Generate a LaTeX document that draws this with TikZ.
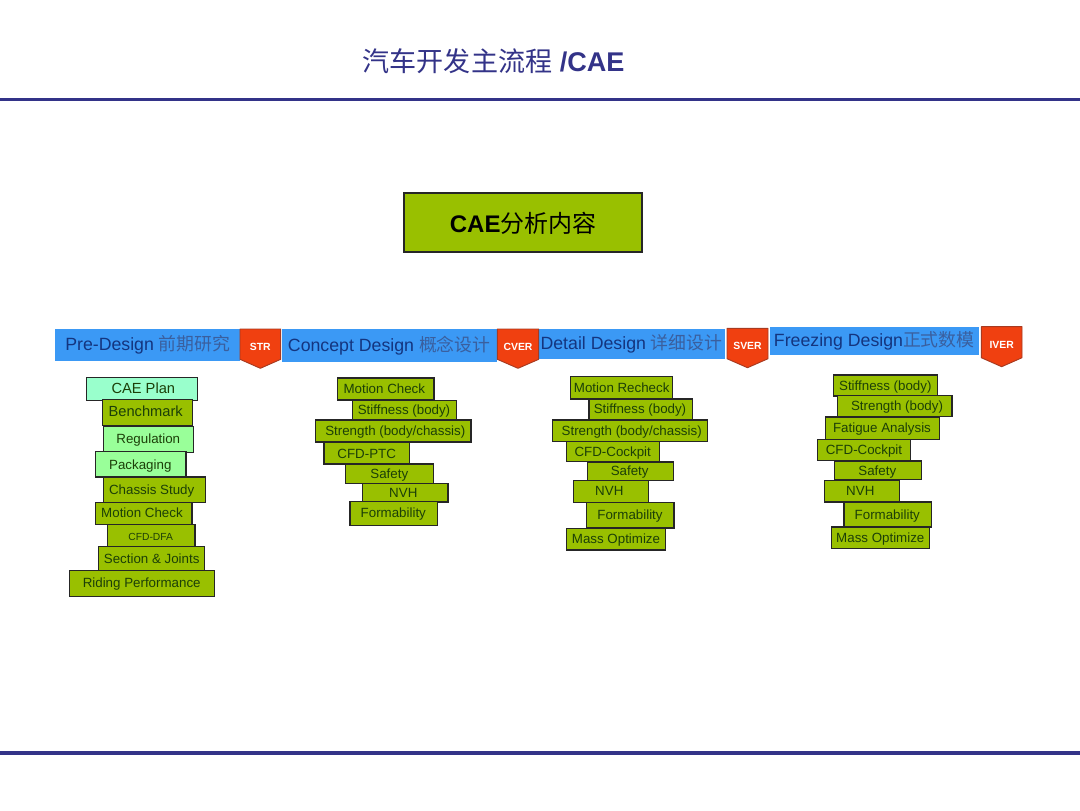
\documentclass[tikz,border=0pt]{standalone}
\usepackage{fontspec}
\setmainfont{Liberation Sans}
\newfontfamily\cjk{Noto Sans CJK SC}
\definecolor{navy}{HTML}{333388}
\definecolor{leaf}{HTML}{99C000}
\definecolor{mintA}{HTML}{99FFCC}
\definecolor{mintB}{HTML}{99FF99}
\definecolor{sky}{HTML}{3B99F5}
\definecolor{ink}{HTML}{1C3F08}
\definecolor{headink}{HTML}{14357F}
\definecolor{cjkink}{HTML}{3A5F9E}
\definecolor{flag}{HTML}{F04010}
\definecolor{flagedge}{HTML}{A83A20}
\tikzset{
  x=0.75pt,y=-0.75pt,
  greenbox/.style={draw=black!85,line width=0.9pt,fill=leaf,inner sep=0pt,outer sep=0pt},
  mintone/.style={greenbox,fill=mintA},
  minttwo/.style={greenbox,fill=mintB},
  boxlabel/.style={text=ink,font=\fontsize{10pt}{12pt}\selectfont,inner sep=0pt,text height=7.2pt,text depth=2pt,yshift=-0.9pt},
  headbar/.style={fill=sky,draw=none,inner sep=0pt,outer sep=0pt},
  headlabel/.style={anchor=west,text=headink,font=\fontsize{13.3pt}{16pt}\selectfont,inner sep=0pt},
  flaglabel/.style={text=white,font=\bfseries\fontsize{7.8pt}{9pt}\selectfont,inner sep=0pt},
  shield/.style={fill=flag,draw=flagedge,line width=0.7pt,line join=round},
  hairline/.style={draw=navy,line width=2.6pt},
}
\newcommand{\headcjk}[1]{{\cjk\color{cjkink}\fontsize{13.4pt}{16pt}\selectfont #1}}
\newcommand{\gbox}[8]{%
  \pgfmathsetmacro{\bw}{(#4-#2)*0.75}\pgfmathsetmacro{\bh}{(#5-#3)*0.75}%
  \pgfmathsetmacro{\bcx}{(#2+#4)/2}\pgfmathsetmacro{\bcy}{(#3+#5)/2}%
  \node[#6,minimum width=\bw pt,minimum height=\bh pt] (#1) at (\bcx,\bcy) {};
  \node[boxlabel] (#1-t) at (#7,\bcy) {#8};
}
\newcommand{\headstrip}[5]{%
  \pgfmathsetmacro{\bw}{(#4-#2)*0.75}\pgfmathsetmacro{\bh}{(#5-#3)*0.75}%
  \pgfmathsetmacro{\bcx}{(#2+#4)/2}\pgfmathsetmacro{\bcy}{(#3+#5)/2}%
  \node[headbar,minimum width=\bw pt,minimum height=\bh pt] (#1) at (\bcx,\bcy) {};
}
\newcommand{\vershield}[6]{%
  \draw[shield] (#2,#3) -- (#4,#3) -- (#4,#5-9) -- ({(#2+#4)/2},#5) -- (#2,#5-9) -- cycle;
  \node[flaglabel] (#1) at ({(#2+#4)/2},#3+18) {#6};
}
\begin{document}
\begin{tikzpicture}
\useasboundingbox (0,0) rectangle (1080,810);
\fill[white] (0,0) rectangle (1080,810);
\coordinate (ta) at (0,99.5); \coordinate (tb) at (1080,99.5);
\coordinate (ba) at (0,753); \coordinate (bb) at (1080,753);
\draw[hairline] (ta) -- (tb);
\draw[hairline] (ba) -- (bb);
\node[anchor=west,inner sep=0pt,text=navy,font=\fontsize{20.3pt}{24pt}\selectfont] (title) at (362.5,61.5) {{\cjk 汽车开发主流程} \textbf{/CAE}};
\node[greenbox,line width=1.3pt,minimum width=178.5pt,minimum height=44.6pt] (main) at (523.2,222.5) {};
\node[inner sep=0pt,text=black,font=\bfseries\fontsize{18pt}{21pt}\selectfont] (maint) at (523.2,223) {CAE{\cjk\mdseries 分析内容}};

\headstrip{h1}{55}{329.3}{240}{361.3}
\headstrip{h2}{282.3}{329.3}{496.7}{362.3}
\headstrip{h3}{538.3}{329.3}{725}{359}
\headstrip{h4}{770}{327.3}{979}{355}
\node[headlabel] (h1t) at (65,345) {Pre-Design \headcjk{前期研究}};
\node[headlabel] (h2t) at (287.7,346) {Concept Design \headcjk{概念设计}};
\node[headlabel] (h3t) at (540.3,344) {Detail Design \headcjk{详细设计}};
\node[headlabel] (h4t) at (773.7,341) {Freezing Design\headcjk{正式数模}};
\vershield{s1}{240}{329}{280.7}{368.3}{STR}
\vershield{s2}{497.3}{329}{538.7}{368.3}{CVER}
\vershield{s3}{727}{328.3}{768}{367.7}{SVER}
\vershield{s4}{981.3}{326.7}{1022}{366.7}{IVER}

\gbox{a1}{86.7}{377.7}{197.7}{400.7}{mintone}{143.3}{\fontsize{11pt}{13pt}\selectfont CAE Plan}
\gbox{a2}{102.7}{399.3}{192.3}{425.3}{greenbox}{145.7}{\fontsize{11pt}{13pt}\selectfont Benchmark}
\gbox{a3}{103.7}{426.3}{193.3}{452.3}{minttwo}{148.3}{Regulation}
\gbox{a4}{95.3}{451.7}{186}{477}{minttwo}{140.3}{Packaging}
\gbox{a5}{103.7}{477}{205.7}{502.3}{greenbox}{151.7}{Chassis Study}
\gbox{a6}{95.3}{502.3}{192}{524.3}{greenbox}{142}{Motion Check}
\gbox{a7}{107.3}{524.3}{195}{546.7}{greenbox}{150.7}{\fontsize{7.7pt}{9pt}\selectfont CFD-DFA}
\gbox{a8}{98.7}{546.7}{204.3}{570.3}{greenbox}{151.7}{Section \& Joints}
\gbox{a9}{69.3}{570.3}{214.3}{596.3}{greenbox}{141.7}{Riding Performance}

\gbox{b1}{337.3}{378}{434}{400}{greenbox}{384.3}{Motion Check}
\gbox{b2}{352.7}{400.7}{456.3}{419.3}{greenbox}{404}{Stiffness (body)}
\gbox{b3}{315.3}{420}{471}{442}{greenbox}{395.3}{Strength (body/chassis)}
\gbox{b4}{324}{442.7}{409.7}{464}{greenbox}{366.7}{CFD-PTC}
\gbox{b5}{345.7}{464}{433.3}{483.7}{greenbox}{389.3}{Safety}
\gbox{b6}{362.7}{483.7}{448}{502}{greenbox}{403.3}{NVH}
\gbox{b7}{350}{501.3}{437.3}{525.3}{greenbox}{393.3}{Formability}

\gbox{c1}{570.7}{376.7}{672.7}{399}{greenbox}{621.7}{Motion Recheck}
\gbox{c2}{589}{399}{692.7}{419.3}{greenbox}{640}{Stiffness (body)}
\gbox{c3}{552.3}{420}{707.3}{441.3}{greenbox}{631.7}{Strength (body/chassis)}
\gbox{c4}{566.7}{441.3}{659.3}{461.7}{greenbox}{612.7}{CFD-Cockpit}
\gbox{c5}{587.3}{462}{673.3}{480.3}{greenbox}{629.7}{Safety}
\gbox{c6}{573.7}{480.3}{648.3}{502.3}{greenbox}{609.3}{NVH}
\gbox{c7}{586.7}{502.3}{674}{528}{greenbox}{630}{Formability}
\gbox{c8}{566.7}{528.3}{665.7}{550}{greenbox}{616}{Mass Optimize}

\gbox{d1}{833.3}{375}{937.7}{396}{greenbox}{885.3}{Stiffness (body)}
\gbox{d2}{837.7}{395.7}{952}{416.7}{greenbox}{897}{Strength (body)}
\gbox{d3}{825.3}{417}{939.3}{439.3}{greenbox}{882}{Fatigue Analysis}
\gbox{d4}{817.3}{439.3}{910.7}{460.7}{greenbox}{864}{CFD-Cockpit}
\gbox{d5}{834.7}{461}{921.3}{479.7}{greenbox}{877.3}{Safety}
\gbox{d6}{824.7}{480.3}{899.7}{502}{greenbox}{860.3}{NVH}
\gbox{d7}{844}{502}{931.7}{527}{greenbox}{887.3}{Formability}
\gbox{d8}{831.3}{527}{929.7}{548.7}{greenbox}{880.3}{Mass Optimize}
\end{tikzpicture}
\end{document}
